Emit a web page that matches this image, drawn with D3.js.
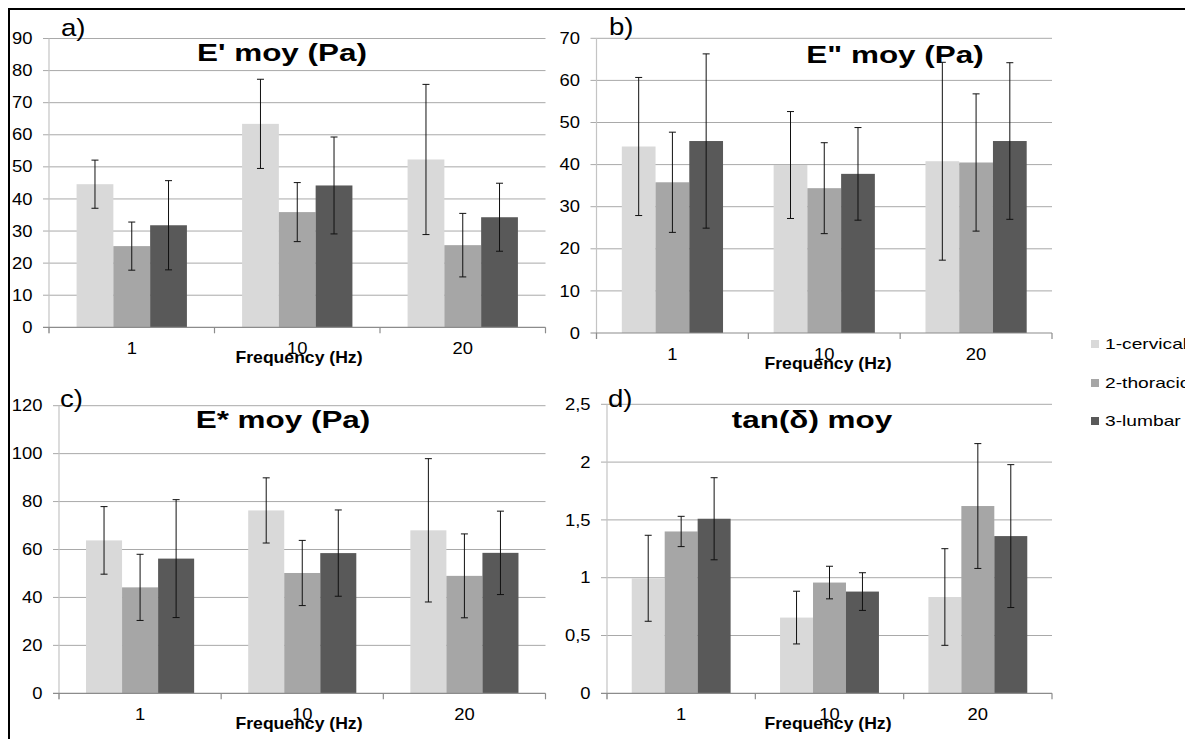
<!DOCTYPE html>
<html>
<head>
<meta charset="utf-8">
<script src="https://cdn.jsdelivr.net/npm/d3@7"></script>
<style>
  body { margin: 0; background: #fff; overflow: hidden; }
  svg { display: block; }
</style>
</head>
<body>
<svg id="chart" width="1185" height="739"></svg>
<script>
// Frequencies (Hz) and spinal regions
const frequencies = ["1", "10", "20"];
const regions = ["1-cervical", "2-thoracic", "3-lumbar"];

// Mean values, one row per frequency, one column per region; SD used for error bars
const storageMean = [[44.6, 25.3, 31.8], [63.4, 35.9, 44.2], [52.3, 25.6, 34.3]];
const storageSD   = [[7.5, 7.5, 13.9], [13.9, 9.2, 15.1], [23.4, 9.9, 10.6]];

const lossMean = [[44.3, 35.8, 45.6], [39.9, 34.4, 37.8], [40.8, 40.5, 45.6]];
const lossSD   = [[16.4, 11.9, 20.7], [12.7, 10.8, 11.0], [23.5, 16.3, 18.6]];

const complexMean = [[63.8, 44.2, 56.2], [76.3, 50.2, 58.5], [68.0, 49.0, 58.6]];
const complexSD   = [[14.1, 13.8, 24.6], [13.6, 13.6, 18.0], [29.9, 17.5, 17.4]];

const tanDeltaMean = [[0.995, 1.40, 1.51], [0.655, 0.958, 0.88], [0.833, 1.62, 1.36]];
const tanDeltaSD   = [[0.372, 0.131, 0.355], [0.228, 0.141, 0.163], [0.418, 0.54, 0.618]];

// Y-axis tick values
const storageTicks  = [0, 10, 20, 30, 40, 50, 60, 70, 80, 90];
const lossTicks     = [0, 10, 20, 30, 40, 50, 60, 70];
const complexTicks  = [0, 20, 40, 60, 80, 100, 120];
const tanDeltaTicks = [0, 0.5, 1, 1.5, 2, 2.5];

const regionColors = ["#d9d9d9", "#a6a6a6", "#595959"];

const FONT = "'Liberation Sans', Arial, Helvetica, sans-serif";

// Layout of the four panels
const panels = [
  { label: "a)", title: "E' moy (Pa)", mean: storageMean, sd: storageSD, ticks: storageTicks,
    x0: 49, x1: 545.5, yTop: 38.5, yBot: 327.3, labelX: 61, labelY: 35.5,
    titleX: 282, titleY: 61, axisTitleX: 299 },
  { label: "b)", title: 'E" moy (Pa)', mean: lossMean, sd: lossSD, ticks: lossTicks,
    x0: 596.5, x1: 1052, yTop: 38.3, yBot: 333, labelX: 609, labelY: 35,
    titleX: 895, titleY: 62.5, axisTitleX: 828 },
  { label: "c)", title: "E* moy (Pa)", mean: complexMean, sd: complexSD, ticks: complexTicks,
    x0: 59, x1: 545.5, yTop: 405.7, yBot: 693.3, labelX: 60, labelY: 407,
    titleX: 283, titleY: 428, axisTitleX: 299 },
  { label: "d)", title: "tan(δ) moy", mean: tanDeltaMean, sd: tanDeltaSD, ticks: tanDeltaTicks,
    x0: 607, x1: 1052, yTop: 404.3, yBot: 693.3, labelX: 608, labelY: 407,
    titleX: 812, titleY: 428, axisTitleX: 828 }
];

const svg = d3.select("#chart");
svg.append("rect").attr("width", 1185).attr("height", 739).attr("fill", "#fff");

// Text helper: horizontally widened glyphs
function label(g, x, y, txt, opts) {
  const t = g.append("text")
    .attr("transform", `translate(${x},${y}) scale(${opts.sx || 1},1)`)
    .attr("font-family", FONT)
    .attr("font-size", opts.size)
    .attr("font-weight", opts.weight || "normal")
    .attr("text-anchor", opts.anchor || "start")
    .attr("fill", opts.fill || "#000")
    .text(txt);
  if (opts.dy) t.attr("dy", opts.dy);
  return t;
}

const fmt = d => String(d).replace(".", ",");

panels.forEach(p => {
  const g = svg.append("g");
  const maxVal = p.ticks[p.ticks.length - 1];

  const y = d3.scaleLinear().domain([0, maxVal]).range([p.yBot, p.yTop]);
  const x = d3.scaleBand().domain(frequencies).range([p.x0, p.x1]).paddingInner(0).paddingOuter(0);
  const xr = d3.scaleBand().domain(regions).range([0, x.bandwidth()]).paddingInner(0).paddingOuter(0.75);

  // Horizontal gridlines (with outward tick marks)
  g.selectAll("line.grid").data(p.ticks.filter(d => d > 0)).join("line")
    .attr("class", "grid")
    .attr("x1", p.x0 - 6).attr("x2", p.x1)
    .attr("y1", d => y(d)).attr("y2", d => y(d))
    .attr("stroke", "#a9a9a9").attr("stroke-width", 1);

  // Vertical value axis
  g.append("line")
    .attr("x1", p.x0).attr("x2", p.x0)
    .attr("y1", p.yTop).attr("y2", p.yBot + 6)
    .attr("stroke", "#c4c4c4").attr("stroke-width", 1.2);

  // Bars
  frequencies.forEach((f, i) => {
    regions.forEach((r, j) => {
      const v = p.mean[i][j];
      g.append("rect")
        .attr("x", x(f) + xr(r))
        .attr("y", y(v))
        .attr("width", xr.bandwidth())
        .attr("height", y(0) - y(v))
        .attr("fill", regionColors[j]);
    });
  });

  // Category axis with boundary ticks
  g.append("line")
    .attr("x1", p.x0 - 6).attr("x2", p.x1)
    .attr("y1", p.yBot).attr("y2", p.yBot)
    .attr("stroke", "#8c8c8c").attr("stroke-width", 1.2);
  const bounds = frequencies.map(f => x(f)).concat([p.x1]);
  g.selectAll("line.xtick").data(bounds).join("line")
    .attr("class", "xtick")
    .attr("x1", d => d).attr("x2", d => d)
    .attr("y1", p.yBot).attr("y2", p.yBot + 6)
    .attr("stroke", "#8c8c8c").attr("stroke-width", 1.2);

  // Error bars (± SD)
  frequencies.forEach((f, i) => {
    regions.forEach((r, j) => {
      const cx = x(f) + xr(r) + xr.bandwidth() / 2;
      const hi = y(p.mean[i][j] + p.sd[i][j]);
      const lo = y(p.mean[i][j] - p.sd[i][j]);
      const eb = g.append("g").attr("stroke", "#111").attr("stroke-width", 1);
      eb.append("line").attr("x1", cx).attr("x2", cx).attr("y1", hi).attr("y2", lo);
      eb.append("line").attr("x1", cx - 3.5).attr("x2", cx + 3.5).attr("y1", hi).attr("y2", hi);
      eb.append("line").attr("x1", cx - 3.5).attr("x2", cx + 3.5).attr("y1", lo).attr("y2", lo);
    });
  });

  // Value tick labels
  p.ticks.forEach(t => {
    label(g, p.x0 - 16.5, y(t), fmt(t), { size: 16, sx: 1.15, anchor: "end", dy: "0.35em" });
  });

  // Frequency labels
  frequencies.forEach(f => {
    label(g, x(f) + x.bandwidth() / 2, p.yBot + 27, f, { size: 16, sx: 1.15, anchor: "middle" });
  });

  // Axis title
  label(g, p.axisTitleX, p.yBot + 36, "Frequency (Hz)", { size: 16, sx: 1.1, weight: "bold", anchor: "middle" });

  // Panel letter and chart title
  label(g, p.labelX, p.labelY, p.label, { size: 24, sx: 1.15 });
  label(g, p.titleX, p.titleY, p.title, { size: 24, sx: 1.31, weight: "bold", anchor: "middle" });
});

// Legend
const legendY = [344, 383, 421];
regions.forEach((r, j) => {
  svg.append("rect")
    .attr("x", 1091).attr("y", legendY[j] - 4)
    .attr("width", 8).attr("height", 8)
    .attr("fill", regionColors[j]);
  label(svg, 1105, legendY[j], r, { size: 15, sx: 1.28, dy: "0.35em" });
});

// Outer frame
svg.append("path")
  .attr("d", "M9,739 V9 H1185")
  .attr("fill", "none").attr("stroke", "#000").attr("stroke-width", 2);
</script>
</body>
</html>
